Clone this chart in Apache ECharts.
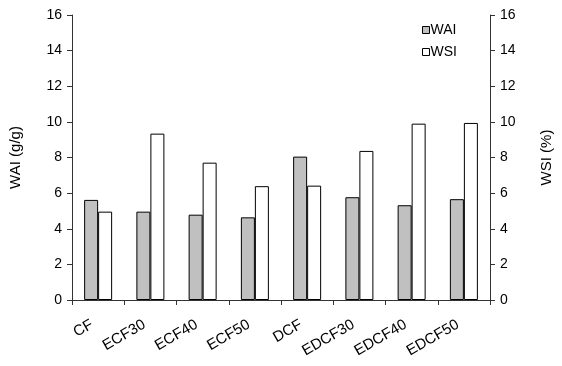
<!DOCTYPE html>
<html>
<head>
<meta charset="utf-8">
<script src="https://cdn.jsdelivr.net/npm/echarts@6/dist/echarts.min.js"></script>
<style>
  html, body { margin: 0; padding: 0; background: #fff; }
  #chart { width: 562px; height: 366px; }
</style>
</head>
<body>
<div id="chart"></div>
<script>
// Samples
var categories = ['CF', 'ECF30', 'ECF40', 'ECF50', 'DCF', 'EDCF30', 'EDCF40', 'EDCF50'];
// Water absorption index (g/g)
var waiValues = [5.62, 4.96, 4.79, 4.64, 8.05, 5.77, 5.32, 5.66];
// Water solubility index (%)
var wsiValues = [4.96, 9.34, 7.71, 6.39, 6.42, 8.37, 9.90, 9.94];

var font = 'Liberation Sans, Arial, sans-serif';
var axisColor = '#333';

var chart = echarts.init(document.getElementById('chart'), null, { renderer: 'canvas' });

function valueAxis(name, position, nameGap) {
  return {
    type: 'value',
    position: position,
    min: 0,
    max: 16,
    interval: 2,
    name: name,
    nameLocation: 'middle',
    nameGap: nameGap,
    nameTextStyle: { fontFamily: font, fontSize: 15, color: '#000' },
    axisLine: { show: true, lineStyle: { color: axisColor, width: 1 } },
    axisTick: { show: true, inside: false, length: 5, lineStyle: { color: axisColor } },
    axisLabel: { fontFamily: font, fontSize: 14, color: '#000', margin: 10 },
    splitLine: { show: false }
  };
}

chart.setOption({
  animation: false,
  backgroundColor: '#fff',
  grid: { left: 72, right: 63, top: 15, bottom: 66, containLabel: false },
  legend: {
    orient: 'vertical',
    left: 417,
    top: 18,
    icon: 'rect',
    itemWidth: 7,
    itemHeight: 7,
    itemGap: 8,
    textStyle: { fontFamily: font, fontSize: 14, color: '#000', padding: [0, 0, 0, -4] },
    data: [
      { name: 'WAI', itemStyle: { color: '#c0c0c0', borderColor: '#000', borderWidth: 1 } },
      { name: 'WSI', itemStyle: { color: '#fff', borderColor: '#000', borderWidth: 1 } }
    ]
  },
  xAxis: {
    type: 'category',
    data: categories,
    axisLine: { lineStyle: { color: axisColor, width: 1 } },
    axisTick: { show: true, length: 5, alignWithLabel: false, lineStyle: { color: axisColor } },
    axisLabel: {
      fontFamily: font, fontSize: 15, color: '#000',
      rotate: 30, margin: 20, interval: 0, padding: [0, 7, 0, 0]
    }
  },
  yAxis: [
    valueAxis('WAI (g/g)', 'left', 49),
    valueAxis('WSI (%)', 'right', 49)
  ],
  series: [
    {
      name: 'WAI',
      type: 'bar',
      yAxisIndex: 0,
      data: waiValues,
      barWidth: 14,
      barGap: '0%',
      itemStyle: { color: '#c0c0c0', borderColor: '#000', borderWidth: 1 }
    },
    {
      name: 'WSI',
      type: 'bar',
      yAxisIndex: 1,
      data: wsiValues,
      barWidth: 14,
      barGap: '0%',
      itemStyle: { color: '#fff', borderColor: '#000', borderWidth: 1 }
    }
  ]
});
</script>
</body>
</html>
